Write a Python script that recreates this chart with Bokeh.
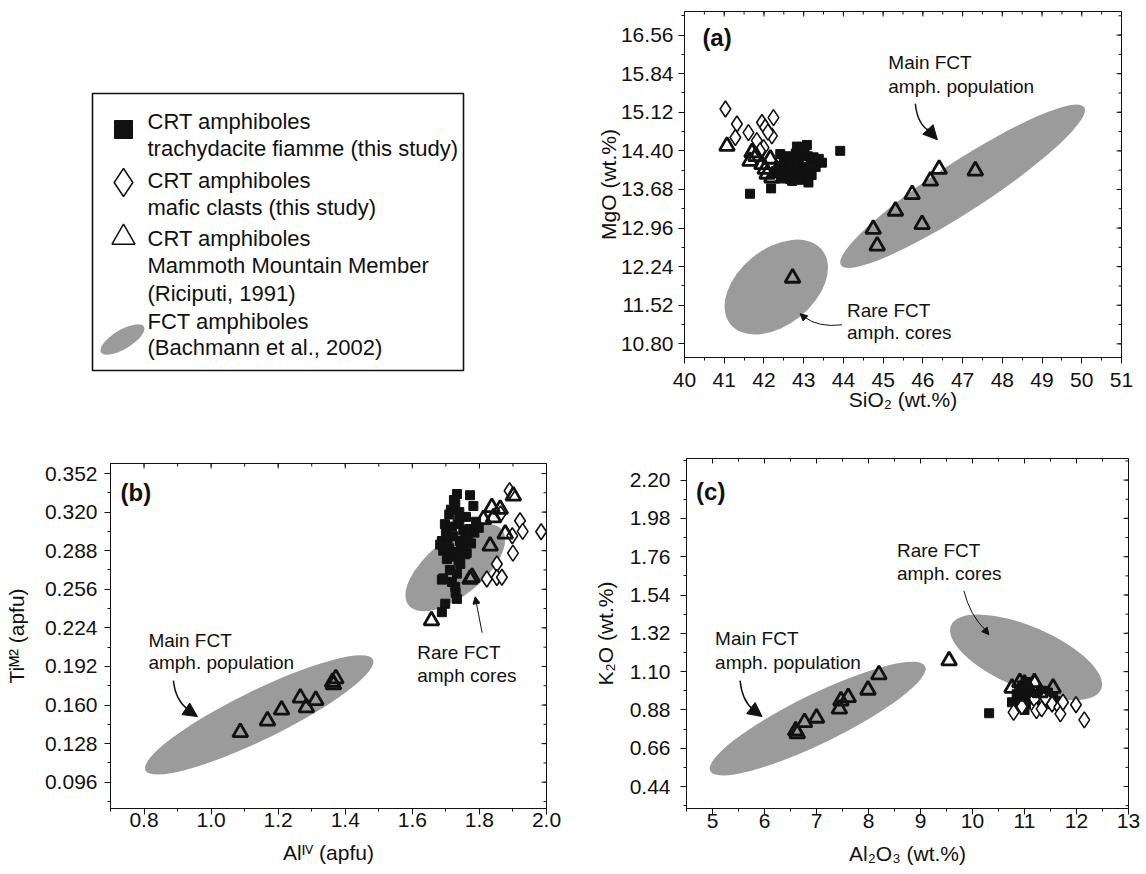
import numpy as np
from bokeh.plotting import figure
from bokeh.models import Range1d, FixedTicker, PrintfTickFormatter, Arrow, NormalHead
from bokeh.layouts import row, column
from bokeh.embed import file_html
from bokeh.resources import INLINE
from bokeh.core.properties import value

FONT = "Liberation Sans"
GREY = "#9b9b9b"
INK = "#111111"

# ---------------- Panel (a): SiO2 vs MgO ----------------
a_sq_x = [42.41, 42.50, 42.58, 42.65, 42.72, 42.80, 42.88, 42.95, 43.02, 43.10, 43.18, 43.25, 43.32, 43.46,
          42.55, 42.70, 42.85, 43.00, 43.15, 43.30,
          42.60, 42.75, 42.90, 43.05, 43.20,
          42.45, 42.65, 42.80, 42.95, 43.10,
          42.91, 43.08, 42.83, 43.00, 43.12, 42.71, 43.38, 43.92, 41.65, 42.18, 42.30, 42.38]
a_sq_y = [14.34, 14.20, 14.30, 14.15, 14.25, 14.35, 14.28, 14.40, 14.36, 14.30, 14.22, 14.28, 14.18, 14.18,
          14.05, 14.08, 14.12, 14.10, 14.05, 14.10,
          13.95, 13.98, 14.00, 13.97, 13.95,
          13.92, 13.88, 13.90, 13.86, 13.88,
          14.46, 14.51, 14.48, 14.45, 13.81, 13.84, 14.25, 14.40, 13.60, 13.70, 14.02, 14.12]
a_di_x = [41.03, 41.32, 41.28, 41.61, 41.95, 42.24, 42.20, 41.82, 42.03, 41.99, 42.10, 41.90]
a_di_y = [15.18, 14.90, 14.65, 14.74, 14.93, 15.02, 14.68, 14.59, 14.84, 14.46, 14.75, 14.40]
a_tr_x = [41.07, 41.70, 41.65, 41.95, 42.03, 42.08, 42.20, 42.49, 42.16, 41.80, 42.30,
          46.41, 47.32, 46.19, 45.73, 45.31, 45.98, 44.75, 44.85, 42.72]
a_tr_y = [14.49, 14.37, 14.21, 14.15, 14.06, 13.97, 13.90, 13.90, 14.25, 14.30, 14.00,
          14.06, 14.03, 13.84, 13.59, 13.28, 13.03, 12.94, 12.63, 12.03]
a_ell_x = [47.0, 42.31]
a_ell_y = [13.74, 11.86]

# ---------------- Panel (b): AlIV vs TiM2 ----------------
b_sq_x = [1.733, 1.772, 1.728, 1.724, 1.782,
          1.697, 1.710, 1.740, 1.760, 1.790,
          1.700, 1.718, 1.735, 1.752, 1.770, 1.785, 1.798,
          1.688, 1.705, 1.722, 1.742, 1.758, 1.775,
          1.692, 1.710, 1.728, 1.745, 1.762,
          1.683, 1.703, 1.720, 1.738, 1.757,
          1.692, 1.712, 1.733, 1.743,
          1.688, 1.729, 1.718, 1.728, 1.698, 1.688, 1.733,
          1.750, 1.765, 1.740, 1.715]
b_sq_y = [0.335, 0.334, 0.327, 0.330, 0.325,
          0.310, 0.318, 0.320, 0.316, 0.312,
          0.304, 0.308, 0.310, 0.305, 0.306, 0.303, 0.307,
          0.296, 0.298, 0.300, 0.296, 0.298, 0.294,
          0.288, 0.290, 0.287, 0.289, 0.286,
          0.293, 0.281, 0.283, 0.280, 0.285,
          0.265, 0.272, 0.269, 0.277,
          0.264, 0.253, 0.262, 0.258, 0.244, 0.237, 0.248,
          0.292, 0.297, 0.313, 0.322]
b_di_x = [1.890, 1.921, 1.929, 1.984, 1.898, 1.900, 1.852, 1.822, 1.852, 1.867, 1.863]
b_di_y = [0.3377, 0.3128, 0.3040, 0.3037, 0.3004, 0.2860, 0.2770, 0.2645, 0.2658, 0.2660, 0.3184]
b_tr_x = [1.087, 1.168, 1.210, 1.266, 1.284, 1.312, 1.362, 1.372, 1.365, 1.657,
          1.772, 1.778, 1.832, 1.877, 1.901, 1.837, 1.862, 1.812, 1.842]
b_tr_y = [0.1374, 0.147, 0.156, 0.166, 0.158, 0.164, 0.179, 0.182, 0.177, 0.230,
          0.2645, 0.266, 0.292, 0.302, 0.3335, 0.324, 0.3225, 0.314, 0.3155]
b_ell_x = [1.1435, 1.728]
b_ell_y = [0.1518, 0.274]

# ---------------- Panel (c): Al2O3 vs K2O ----------------
c_sq_x = [10.32, 10.76, 10.97, 10.90, 10.95, 11.00, 11.05, 11.10, 11.15, 11.20, 10.98, 11.03, 11.08,
          11.30, 11.40, 11.45, 11.55, 10.92, 11.12, 11.25, 10.85, 11.35, 11.60, 10.88, 11.00]
c_sq_y = [0.861, 0.924, 0.895, 1.00, 1.02, 0.98, 1.04, 0.96, 1.00, 0.94, 0.94, 0.91, 1.01,
          0.97, 0.96, 0.98, 0.95, 0.96, 1.03, 0.99, 0.97, 0.99, 0.93, 0.92, 0.88]
c_di_x = [10.79, 11.19, 11.23, 11.33, 11.46, 11.53, 11.67, 11.69, 11.74, 11.99, 12.15, 11.20, 10.95, 11.40]
c_di_y = [0.866, 0.943, 0.876, 0.886, 0.933, 0.914, 0.895, 0.857, 0.924, 0.910, 0.823, 1.030, 0.900, 0.950]
c_tr_x = [6.60, 6.63, 6.77, 7.00, 7.44, 7.47, 7.61, 7.99, 8.20, 9.55,
          10.91, 11.19, 11.55, 10.76, 11.11, 11.00, 11.30, 10.95]
c_tr_y = [0.761, 0.745, 0.809, 0.834, 0.886, 0.933, 0.952, 0.995, 1.083, 1.163,
          1.038, 1.038, 1.006, 1.006, 0.990, 1.030, 0.980, 0.960]
c_ell_x = [7.023, 11.03]
c_ell_y = [0.830, 1.182]

# ---------------- ticks ----------------
a_xticks = [40, 41, 42, 43, 44, 45, 46, 47, 48, 49, 50, 51]
a_yticks = [10.80, 11.52, 12.24, 12.96, 13.68, 14.40, 15.12, 15.84, 16.56]
b_xticks = [0.8, 1.0, 1.2, 1.4, 1.6, 1.8, 2.0]
b_yticks = [0.096, 0.128, 0.160, 0.192, 0.224, 0.256, 0.288, 0.320, 0.352]
c_xticks = [5, 6, 7, 8, 9, 10, 11, 12, 13]
c_yticks = [0.44, 0.66, 0.88, 1.10, 1.32, 1.54, 1.76, 1.98, 2.20]

legend_labels = ["CRT amphiboles", "trachydacite fiamme (this study)",
                 "CRT amphiboles", "mafic clasts (this study)",
                 "CRT amphiboles", "Mammoth Mountain Member", "(Riciputi, 1991)",
                 "FCT amphiboles", "(Bachmann et al., 2002)"]


def minors(ticks, lo, hi):
    h = (ticks[1] - ticks[0]) / 2.0
    vals = np.arange(ticks[0] - 40 * h, ticks[-1] + 40 * h, h)
    return [float(v) for v in vals if lo - 1e-9 <= v <= hi + 1e-9]


def style_axis(ax, ticks, minor, fmt, label, standoff, lstandoff):
    ax.ticker = FixedTicker(ticks=ticks, minor_ticks=minor)
    ax.formatter = PrintfTickFormatter(format=fmt)
    ax.major_tick_out = 6
    ax.major_tick_in = 0
    ax.minor_tick_out = 3
    ax.minor_tick_in = 0
    ax.axis_line_color = INK
    ax.major_tick_line_color = INK
    ax.minor_tick_line_color = INK
    ax.major_label_text_font = FONT
    ax.major_label_text_font_size = "21px"
    ax.major_label_text_color = INK
    ax.major_label_standoff = standoff
    ax.axis_label = label
    ax.axis_label_text_font = FONT
    ax.axis_label_text_font_size = "21px"
    ax.axis_label_text_font_style = "normal"
    ax.axis_label_text_color = INK
    ax.axis_label_standoff = lstandoff


def mirror_ticks(p, xt, xm, yt, ym, xr, yr):
    # inward ticks on the top and right frame edges
    p.ray(x=xt, y=[yr[1]] * len(xt), length=5, length_units="screen", angle=-90,
          angle_units="deg", line_color=INK, line_width=1)
    p.ray(x=xm, y=[yr[1]] * len(xm), length=3, length_units="screen", angle=-90,
          angle_units="deg", line_color=INK, line_width=1)
    p.ray(x=[xr[1]] * len(yt), y=yt, length=5, length_units="screen", angle=180,
          angle_units="deg", line_color=INK, line_width=1)
    p.ray(x=[xr[1]] * len(ym), y=ym, length=3, length_units="screen", angle=180,
          angle_units="deg", line_color=INK, line_width=1)


def make_plot(w, h, xr, yr, borders, xticks, yticks, xfmt, yfmt, xlabel, ylabel,
              xstd, ystd, xlstd, ylstd):
    L, R, T, B = borders
    p = figure(width=w, height=h, x_range=Range1d(*xr), y_range=Range1d(*yr),
               output_backend="svg", toolbar_location=None,
               min_border_left=L, min_border_right=R, min_border_top=T, min_border_bottom=B)
    p.grid.visible = False
    p.outline_line_color = INK
    p.outline_line_width = 1
    p.outline_line_alpha = 1
    xm = minors(xticks, *xr)
    ym = minors(yticks, *yr)
    style_axis(p.xaxis[0], xticks, xm, xfmt, xlabel, xstd, xlstd)
    style_axis(p.yaxis[0], yticks, ym, yfmt, ylabel, ystd, ylstd)
    mirror_ticks(p, [t for t in xticks if xr[0] <= t <= xr[1]], xm,
                 [t for t in yticks if yr[0] <= t <= yr[1]], ym, xr, yr)
    return p


def add_ellipses(p, xs, ys, ws, hs, angs):
    p.ellipse(x=xs, y=ys, width=ws, height=hs, angle=angs, angle_units="deg",
              width_units="screen", height_units="screen", fill_color=GREY, line_color=None)


def add_points(p, sx, sy, dx, dy, tx, ty):
    p.scatter(sx, sy, marker="square", size=9, fill_color=INK, line_color=INK)
    p.scatter(dx, dy, marker="diamond", size=16, fill_color="white", line_color=INK, line_width=1.6)
    p.scatter(tx, ty, marker="triangle", size=15, fill_color=None, line_color=INK, line_width=2.8)


def add_text(p, xs, ys, labels, size="19px", style="normal"):
    p.text(x=xs, y=ys, text=labels, text_font=value(FONT), text_font_size=size,
           text_font_style=style, text_baseline="middle", text_align="left", text_color=INK)


def curved_arrow(p, x0, y0, cx, cy, x1, y1, hx0, hy0, hx1, hy1, lw, head):
    p.quadratic(x0=[x0], y0=[y0], x1=[x1], y1=[y1], cx=[cx], cy=[cy],
                line_color=INK, line_width=lw)
    p.add_layout(Arrow(end=NormalHead(size=head, fill_color=INK, line_color=INK, line_width=1),
                       x_start=hx0, y_start=hy0, x_end=hx1, y_end=hy1,
                       line_color=INK, line_width=lw))


# ---------------- legend figure ----------------
leg = figure(width=590, height=420, x_range=Range1d(0, 590), y_range=Range1d(0, 420),
             output_backend="svg", toolbar_location=None,
             x_axis_location=None, y_axis_location=None, min_border=0)
leg.grid.visible = False
leg.outline_line_color = None
leg.quad(left=[92], right=[463], top=[327], bottom=[50], fill_color=None,
         line_color=INK, line_width=1.6)
leg.scatter([123], [291], marker="square", size=18, fill_color=INK, line_color=INK)
leg.scatter([123], [238], marker="diamond", size=28, fill_color="white", line_color=INK, line_width=1.5)
leg.scatter([123], [183], marker="triangle", size=23, fill_color=None, line_color=INK, line_width=1.5)
leg.ellipse(x=[122], y=[81], width=[50], height=[19], angle=[31], angle_units="deg",
            width_units="screen", height_units="screen", fill_color=GREY, line_color=None)
leg.text(x=[147] * 9, y=[299, 272, 240, 213, 182, 155, 127, 99, 73], text=legend_labels,
         text_font=value(FONT), text_font_size="22px", text_baseline="middle",
         text_align="left", text_color=INK)

# ---------------- panel (a) ----------------
pa = make_plot(546, 420, (40, 51), (10.545, 17.0), (94, 15, 11, 63),
               a_xticks, a_yticks, "%d", "%.2f", "SiO₂ (wt.%)", "MgO (wt.%)", 9, 5, -2, -2)
add_ellipses(pa, a_ell_x, a_ell_y, [290, 118], [50, 76], [33, 39])
add_text(pa, [45.13, 45.13], [16.04, 15.61], ["Main FCT", "amph. population"])
add_text(pa, [44.09, 44.09], [11.42, 11.01], ["Rare FCT", "amph. cores"])
add_text(pa, [40.45], [16.51], ["(a)"], size="24px", style="bold")
curved_arrow(pa, 45.811, 15.278, 45.861, 14.886, 46.189, 14.756,
             46.113, 14.812, 46.365, 14.607, 1.5, 14)
curved_arrow(pa, 43.967, 11.155, 43.363, 11.099, 43.010, 11.304,
             43.05, 11.27, 42.91, 11.36, 1.0, 7)
add_points(pa, a_sq_x, a_sq_y, a_di_x, a_di_y, a_tr_x, a_tr_y)

# ---------------- panel (b) ----------------
pb = make_plot(588, 452, (0.7, 2.0), (0.0742, 0.3603), (110, 42, 43, 64),
               b_xticks, b_yticks, "%.1f", "%.3f", "Alᴵⱽ (apfu)", "Tiᴹ² (apfu)", -2, 7, 11, 14)
add_ellipses(pb, b_ell_x, b_ell_y, [253, 120], [49, 56], [26, 39])
add_text(pb, [0.813, 0.813], [0.2134, 0.1952], ["Main FCT", "amph. population"])
add_text(pb, [1.6145, 1.6145], [0.2035, 0.1844], ["Rare FCT", "amph cores"])
add_text(pb, [0.73], [0.3363], ["(b)"], size="24px", style="bold")
curved_arrow(pb, 0.8877, 0.1803, 0.8936, 0.1637, 0.9323, 0.1562,
             0.925, 0.1568, 0.9592, 0.1504, 1.5, 14)
pb.add_layout(Arrow(end=NormalHead(size=7, fill_color=INK, line_color=INK, line_width=1),
                    x_start=1.808, y_start=0.2200, x_end=1.7873, y_end=0.2498,
                    line_color=INK, line_width=1.0))
add_points(pb, b_sq_x, b_sq_y, b_di_x, b_di_y, b_tr_x, b_tr_y)

# ---------------- panel (c) ----------------
pc = make_plot(552, 452, (4.5, 13.0), (0.3138, 2.324), (98, 12, 38, 64),
               c_xticks, c_yticks, "%d", "%.2f", "Al₂O₃ (wt.%)", "K₂O (wt.%)", -1, 10, 11, 10)
add_ellipses(pc, c_ell_x, c_ell_y, [239, 163], [49, 62], [26, -23])
add_text(pc, [5.05, 5.05], [1.289, 1.151], ["Main FCT", "amph. population"])
add_text(pc, [8.547, 8.547], [1.794, 1.662], ["Rare FCT", "amph. cores"])
add_text(pc, [4.685], [2.132], ["(c)"], size="24px", style="bold")
curved_arrow(pc, 5.530, 1.048, 5.569, 0.933, 5.780, 0.882,
             5.75, 0.888, 5.953, 0.842, 1.5, 14)
curved_arrow(pc, 9.835, 1.5645, 9.95, 1.424, 10.25, 1.338,
             10.22, 1.346, 10.315, 1.312, 1.0, 7)
add_points(pc, c_sq_x, c_sq_y, c_di_x, c_di_y, c_tr_x, c_tr_y)

layout = column(row(column(leg), pa), row(column(pb), column(pc)))
open("out.html", "w").write(file_html(layout, INLINE))
